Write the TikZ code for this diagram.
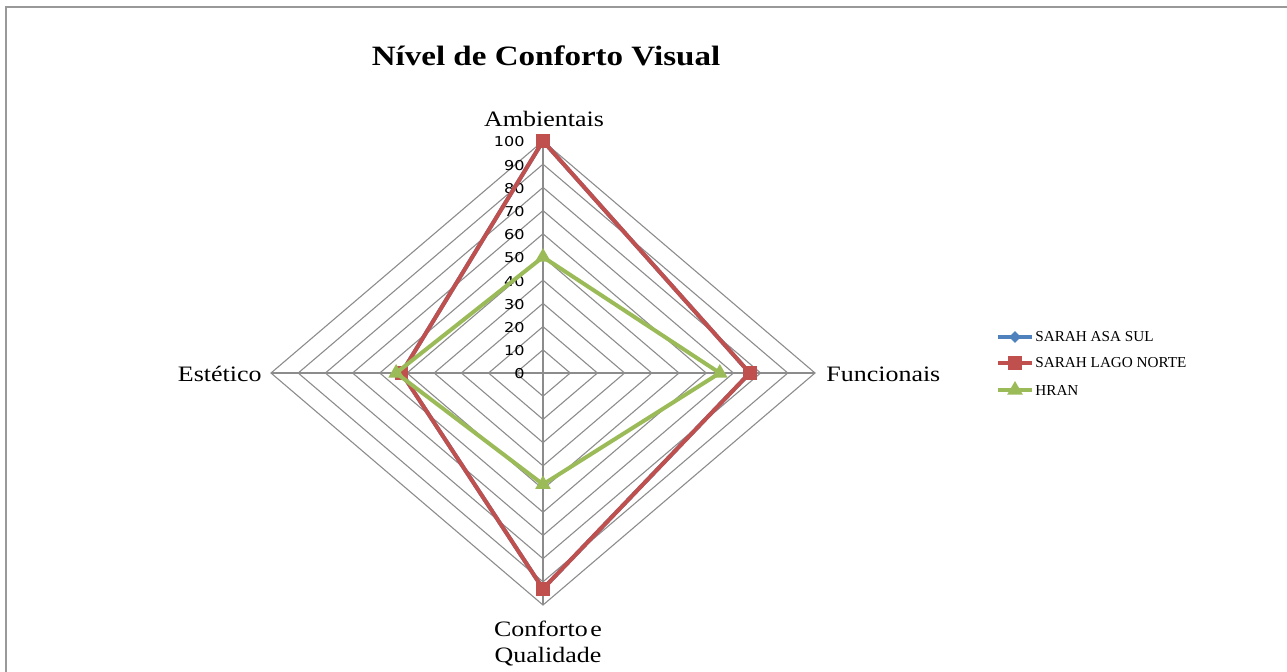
\documentclass[tikz,border=0pt]{standalone}
\usepackage{fontspec}
\setmainfont[FakeStretch=1.18]{Liberation Serif}
\newfontfamily\tickfont[FakeStretch=1.18]{DejaVu Sans}
\newfontfamily\legfont{Liberation Serif}
\usetikzlibrary{shapes.geometric}
\definecolor{asasul}{HTML}{4F81BD}
\definecolor{lagonorte}{HTML}{C0504D}
\definecolor{hran}{HTML}{9BBB59}
\definecolor{gridgray}{HTML}{8C8C8C}
\newcommand{\gridring}[1]{ \draw[gridgray, line width=0.55pt] ( 543 , 373 - 2.32 * #1 ) -- ( 543 + 2.72 * #1 , 373 ) -- ( 543 , 373 + 2.32 * #1 ) -- ( 543 - 2.72 * #1 , 373 ) -- cycle;}
\newcommand{\ticklbl}[1]{\node[anchor=east, inner sep=0pt, font=\tickfont\fontsize{6.8}{7}\selectfont] (t#1) at ( 525 , 374 - 2.32 * #1 ) {#1};}
\newcommand{\series}[5]{\coordinate (#1a) at ( 543 , 373 - 2.32 * #2 ); \coordinate (#1f) at ( 543 + 2.72 * #3 , 373 ); \coordinate (#1c) at ( 543 , 373 + 2.32 * #4 ); \coordinate (#1e) at ( 543 - 2.72 * #5 , 373 );}
\tikzset{
  x=0.5pt, y=-0.5pt,
  serie/.style={line width=2pt, line join=miter},
  sqmark/.style={shape=rectangle, fill=lagonorte, inner sep=0pt, minimum size=6.8pt},
  dmmark/.style={shape=diamond, fill=asasul, inner sep=0pt, minimum size=6pt},
  trmark/.style={shape=regular polygon, regular polygon sides=3, fill=hran, inner sep=0pt, minimum size=9pt},
  axlbl/.style={font=\fontsize{11}{13}\selectfont, inner sep=0pt},
  leglbl/.style={font=\legfont\fontsize{7.6}{8}\selectfont, anchor=west, inner sep=0pt}
}

\begin{document}
\begin{tikzpicture}
        \useasboundingbox (0,0) rectangle (1287,671);
        \draw[gray!80, line width=1pt] (6,680) -- (6,7) -- (1300,7);
        \node[font=\bfseries\fontsize{14}{16}\selectfont] (titulo) at (546,56) {Nível de Conforto Visual};
        % grade
        \gridring{10} \gridring{20} \gridring{30} \gridring{40} \gridring{50}
        \gridring{60} \gridring{70} \gridring{80} \gridring{90} \gridring{100}
        \coordinate (o) at (543,373);
        \series{g}{100}{100}{100}{100}
        \draw[gridgray, line width=0.7pt] (ga) -- (gc);
        \draw[gridgray, line width=0.7pt] (ge) -- (gf);
        \ticklbl{0} \ticklbl{10} \ticklbl{20} \ticklbl{30} \ticklbl{40} \ticklbl{50}
        \ticklbl{60} \ticklbl{70} \ticklbl{80} \ticklbl{90} \ticklbl{100}
        \node[axlbl, anchor=south] (amb) at (544,127) {Ambientais};
        \node[axlbl, anchor=west] (fun) at (826,374) {Funcionais};
        \node[axlbl, anchor=east] (est) at (262,374) {Estético};
        \node[axlbl, anchor=north, align=center] (con) at (548,621) {Conforto\hspace{0.12em}e\\Qualidade};
        % dados
        \series{s}{100}{76}{93}{52}
        \series{l}{100}{76}{93}{52}
        \series{h}{50}{65}{48}{54}
        \draw[serie, asasul] (sa) -- (sf) -- (sc) -- (se) -- cycle;
        \draw[serie, lagonorte] (la) -- (lf) -- (lc) -- (le) -- cycle;
        \node[dmmark] (sa1) at (sa) {}; \node[dmmark] (sf1) at (sf) {};
        \node[dmmark] (sc1) at (sc) {}; \node[dmmark] (se1) at (se) {};
        \node[sqmark] (la1) at (la) {}; \node[sqmark] (lf1) at (lf) {};
        \node[sqmark] (lc1) at (lc) {}; \node[sqmark] (le1) at (le) {};
        \draw[serie, hran] (ha) -- (hf) -- (hc) -- (he) -- cycle;
        \node[trmark] (ha1) at (ha) {}; \node[trmark] (hf1) at (hf) {};
        \node[trmark] (hc1) at (hc) {}; \node[trmark] (he1) at (he) {};
        % legenda
        \coordinate (ls1) at (998,337); \coordinate (ls2) at (1032,337);
        \draw[serie, asasul] (ls1) -- (ls2);
        \node[dmmark] (lsm) at (1015,337) {};
        \node[leglbl] (lst) at (1035,337) {SARAH ASA SUL};
        \coordinate (ll1) at (998,363); \coordinate (ll2) at (1032,363);
        \draw[serie, lagonorte] (ll1) -- (ll2);
        \node[sqmark] (llm) at (1015,363) {};
        \node[leglbl] (llt) at (1035,363) {SARAH LAGO NORTE};
        \coordinate (lh1) at (998,390); \coordinate (lh2) at (1032,390);
        \draw[serie, hran] (lh1) -- (lh2);
        \node[trmark] (lhm) at (1015,390) {};
        \node[leglbl] (lht) at (1035,390) {HRAN};
    \end{tikzpicture}
\end{document}
